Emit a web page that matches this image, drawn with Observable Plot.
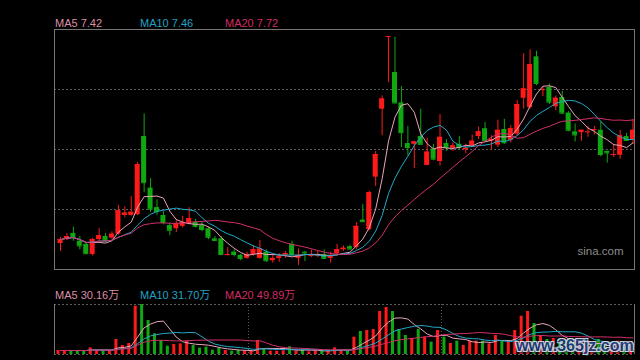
<!DOCTYPE html>
<html><head><meta charset="utf-8">
<script src="https://cdn.jsdelivr.net/npm/d3@7"></script>
<script src="https://cdn.jsdelivr.net/npm/@observablehq/plot@0.6"></script>
<style>
html,body{margin:0;padding:0;background:#000;}
#wrap{position:relative;width:640px;height:360px;background:#000;overflow:hidden;font-family:"Liberation Sans",Arial,sans-serif;}
#wrap svg{position:absolute;left:0;}
.lbl{position:absolute;font-size:11px;line-height:11px;white-space:nowrap;}
.cjk{font-family:"Liberation Sans","Noto Sans CJK SC",sans-serif;}
#wm{position:absolute;left:516px;top:337px;font:bold 16px "Liberation Sans",Arial,sans-serif;color:#1d3c7c;opacity:0.9;
 text-shadow:-1px -1px 0 #dfe6f0,1px -1px 0 #dfe6f0,-1px 1px 0 #dfe6f0,1px 1px 0 #dfe6f0,2px 2px 1px #334;}
</style></head>
<body><div id="wrap"></div>
<script>
// ---- data ----
const opens = [6.13,6.18,6.26,6.16,6.12,5.99,6.18,6.22,6.20,6.25,
6.49,6.49,6.50,7.50,6.84,6.59,6.49,6.36,6.32,6.35,
6.38,6.40,6.36,6.32,6.19,6.19,5.98,6.02,5.98,5.94,
5.99,5.94,6.02,5.91,5.94,5.98,6.12,5.94,6.02,5.97,
5.97,5.99,5.94,6.00,6.05,6.09,6.08,6.43,6.31,6.98,
7.85,8.78,8.32,7.93,7.41,7.40,7.50,7.13,7.34,7.18,
7.41,7.35,7.40,7.33,7.38,7.50,7.60,7.44,7.39,7.59,
7.45,7.53,7.99,7.87,8.52,8.09,8.13,7.88,8.00,7.80,
7.56,7.55,7.56,7.58,7.58,7.31,7.26,7.26,7.50,7.45];
const highs = [6.21,6.26,6.34,6.22,6.14,6.20,6.32,6.26,6.28,6.62,
6.60,6.73,7.17,7.79,6.96,6.69,6.54,6.39,6.44,6.48,
6.59,6.44,6.40,6.34,6.22,6.22,6.08,6.05,5.99,6.02,
6.10,6.17,6.05,5.99,6.00,6.03,6.16,6.06,6.03,6.05,
6.03,6.05,6.02,6.12,6.10,6.11,6.40,6.63,6.80,7.31,
8.02,8.78,8.77,8.14,7.63,7.44,7.85,7.48,7.40,7.78,
7.46,7.42,7.50,7.40,7.52,7.62,7.68,7.51,7.71,7.72,
7.64,7.96,8.56,8.61,8.59,8.14,8.17,8.02,8.08,7.82,
7.66,7.58,7.63,7.63,7.69,7.31,7.40,7.58,7.54,7.72];
const lows = [6.03,6.17,6.16,6.05,5.99,5.97,6.16,6.14,6.18,6.24,
6.46,6.48,6.49,6.78,6.53,6.49,6.37,6.23,6.27,6.33,
6.37,6.33,6.28,6.18,6.17,5.98,5.97,5.96,5.91,5.93,
5.97,5.93,5.89,5.88,5.89,5.94,5.97,5.85,5.90,5.95,
5.95,5.94,5.88,5.97,6.03,6.05,6.05,6.40,6.29,6.86,
7.51,8.19,7.92,7.36,7.25,7.09,7.40,7.13,7.19,7.12,
7.31,7.31,7.33,7.28,7.36,7.46,7.42,7.33,7.36,7.40,
7.42,7.51,7.85,7.85,8.15,8.01,7.91,7.83,7.78,7.56,
7.43,7.44,7.49,7.52,7.24,7.16,7.23,7.21,7.44,7.40];
const closes = [6.18,6.22,6.22,6.10,6.00,6.18,6.23,6.17,6.25,6.55,
6.52,6.53,7.14,6.91,6.57,6.54,6.40,6.30,6.38,6.40,
6.45,6.35,6.31,6.21,6.17,5.99,5.99,5.99,5.94,5.99,
6.05,6.06,5.91,5.94,5.96,6.00,5.99,5.98,6.01,5.98,
5.99,5.94,5.97,6.05,6.07,6.06,6.35,6.41,6.78,7.27,
7.98,8.78,7.93,7.55,7.36,7.43,7.40,7.30,7.21,7.49,
7.36,7.38,7.36,7.35,7.44,7.56,7.45,7.46,7.58,7.42,
7.60,7.91,8.11,8.42,8.18,8.10,7.94,7.99,7.80,7.58,
7.52,7.58,7.56,7.59,7.27,7.29,7.27,7.51,7.45,7.58];
// volume, in 万 (10k shares)
const volumes = [12,12,12,12,12,20,12,12,12,45,
27,33,145,150,102,62,42,25,30,32,
40,27,19,22,13,18,12,10,12,10,
11,42,17,10,10,11,23,10,13,8,
10,12,12,20,12,10,52,69,72,75,
129,141,129,75,57,48,75,52,37,72,
52,33,40,27,40,40,40,32,57,42,
37,72,115,129,93,55,45,48,45,42,
38,30,28,25,45,30,25,40,22,34];
const monthStarts = [30, 60];
const maPeriods = [5, 10, 20];
const priceLabels = ["MA5 7.42", "MA10 7.46", "MA20 7.72"];
const volumeLabels = ["MA5 30.16万", "MA10 31.70万", "MA20 49.89万"];

// ---- styles ----
const RED = "#ff1a1a", GREEN = "#10a810";
const MA_COLORS = ["#e9a6ba", "#22a9c9", "#d2306a"];
const LABEL_COLORS = ["#dc8ea6", "#22a2c4", "#d22c64"];
const GRID = "#5c5c5c", BORDER = "#767676";
const priceDomain = [5.798, 8.87];
const xDomain = [-0.933, 89.233];
const volMax = 150;

const N = closes.length;
const rows = d3.range(N).map(i => ({i, o: opens[i], h: highs[i], l: lows[i], c: closes[i], v: volumes[i],
  col: closes[i] >= opens[i] ? RED : GREEN}));
const ma = (arr, n) => arr.map((_, i) => d3.mean(arr.slice(Math.max(0, i - n + 1), i + 1)));
const priceMA = maPeriods.map(n => ma(closes, n));
const volMA = maPeriods.map(n => ma(volumes, n));
const grid = [1, 2, 3].map(k => priceDomain[0] + (priceDomain[1] - priceDomain[0]) * k / 4);

const wrap = document.getElementById("wrap");

const main = Plot.plot({
  width: 640, height: 269, marginTop: 29, marginBottom: 0, marginLeft: 54, marginRight: 6,
  style: {background: "transparent", overflow: "visible"},
  x: {type: "linear", domain: xDomain, axis: null},
  y: {type: "linear", domain: priceDomain, axis: null},
  color: {type: "identity"},
  marks: [
    Plot.ruleY(grid, {stroke: GRID, strokeDasharray: "2,2"}),
    Plot.ruleX(rows, {x: "i", y1: "l", y2: "h", stroke: "col"}),
    Plot.rect(rows, {x1: d => d.i - 0.389, x2: d => d.i + 0.389, y1: "o", y2: "c", fill: "col"}),
    Plot.ruleY(rows, {y: "c", x1: d => d.i - 0.389, x2: d => d.i + 0.389, stroke: "col"}),
    ...priceMA.map((m, k) => Plot.line(m, {x: (d, i) => i, y: d => d, stroke: MA_COLORS[k], strokeWidth: 1})),
    Plot.frame({stroke: BORDER}),
    Plot.text(["sina.com"], {frameAnchor: "bottom-right", dx: -11, dy: -15, fill: "#8c8c8c", fontSize: 11.5,
      fontFamily: "Liberation Sans, Arial, sans-serif", textAnchor: "end", lineAnchor: "bottom"})
  ]
});
main.style.top = "0px";
wrap.appendChild(main);

const vol = Plot.plot({
  width: 640, height: 60, marginTop: 4, marginBottom: 6, marginLeft: 54, marginRight: 6,
  style: {background: "transparent", overflow: "visible"},
  x: {type: "linear", domain: xDomain, axis: null},
  y: {type: "linear", domain: [0, volMax], axis: null},
  color: {type: "identity"},
  marks: [
    Plot.ruleY([0, volMax], {stroke: GRID, strokeDasharray: "2,2"}),
    Plot.ruleX(monthStarts, {x: d => d - 0.78, stroke: GRID, strokeDasharray: "1,2"}),
    Plot.rect(rows, {x1: d => d.i - 0.544, x2: d => d.i - 0.078, y1: 0, y2: "v", fill: "col"}),
    ...volMA.map((m, k) => Plot.line(m, {x: (d, i) => i, y: d => d, stroke: MA_COLORS[k], strokeWidth: 1})),
    Plot.ruleX([xDomain[0], xDomain[1]], {stroke: BORDER})
  ]
});
vol.style.top = "300px";
wrap.appendChild(vol);

// MA legends above each panel
const labelX = [55, 140, 225];
priceLabels.forEach((t, k) => {
  const d = document.createElement("div");
  d.className = "lbl"; d.textContent = t;
  d.style.left = labelX[k] + "px"; d.style.top = "18px"; d.style.color = LABEL_COLORS[k];
  wrap.appendChild(d);
});
volumeLabels.forEach((t, k) => {
  const d = document.createElement("div");
  d.className = "lbl cjk"; d.textContent = t;
  d.style.left = labelX[k] + "px"; d.style.top = "290px"; d.style.color = LABEL_COLORS[k];
  wrap.appendChild(d);
});
const wm = document.createElement("div");
wm.id = "wm"; wm.textContent = "www.365jz.com";
wrap.appendChild(wm);
</script>
</body></html>
